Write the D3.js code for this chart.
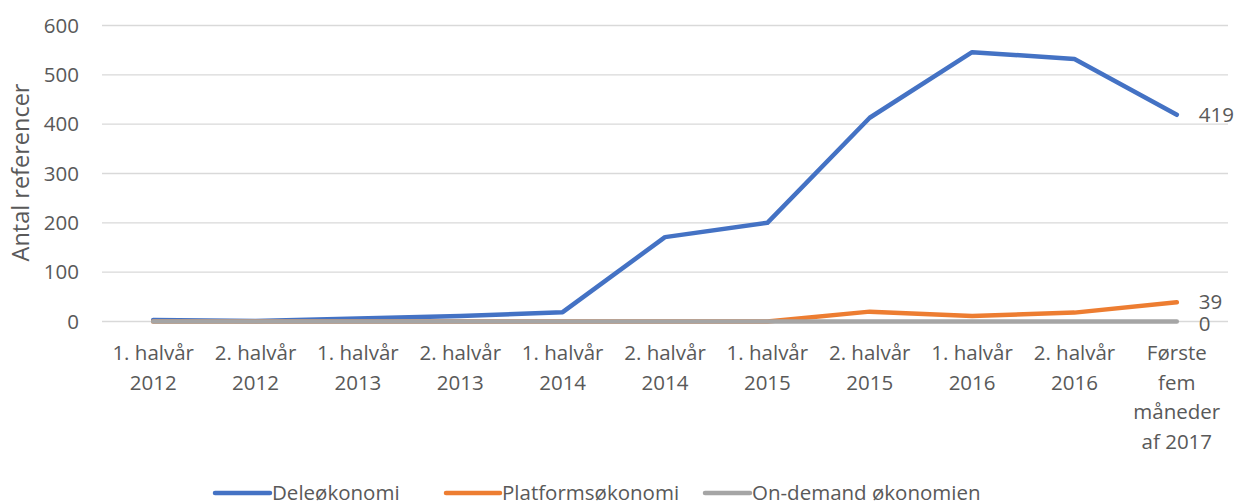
<!DOCTYPE html>
<html>
<head>
<meta charset="utf-8">
<script src="https://cdn.jsdelivr.net/npm/d3@7"></script>
<style>
  body { margin: 0; background: #fff; }
  text { font-family: "Open Sans", Lato, sans-serif; fill: #595959; }
</style>
</head>
<body>
<div id="chart"></div>
<script>
// categories (x axis, multi-line labels)
var categories = [
    ["1. halvår", "2012"], ["2. halvår", "2012"], ["1. halvår", "2013"], ["2. halvår", "2013"],
    ["1. halvår", "2014"], ["2. halvår", "2014"], ["1. halvår", "2015"], ["2. halvår", "2015"],
    ["1. halvår", "2016"], ["2. halvår", "2016"], ["Første", "fem", "måneder", "af 2017"]
];
var seriesNames = ["Deleøkonomi", "Platformsøkonomi", "On-demand økonomien"];
var deleValues = [3, 1, 6, 11, 19, 171, 200, 413, 546, 532, 419];
var platformValues = [0, 0, 0, 0, 0, 0, 0, 20, 11, 18, 39];
var onDemandValues = [0, 0, 0, 0, 0, 0, 0, 0, 0, 0, 0];
var yTicks = [0, 100, 200, 300, 400, 500, 600];
var colors = ["#4472C4", "#ED7D31", "#A5A5A5"];
var fontSize = "20.5px";

function init() {
    var W = 1237, H = 502;
    var margin = { top: 25.5, right: 9, bottom: 180.5, left: 102 };
    var width = W - margin.left - margin.right,
        height = H - margin.top - margin.bottom;

    var svg = d3.select("#chart").append("svg")
        .attr("width", W).attr("height", H);
    var g = svg.append("g")
        .attr("transform", "translate(" + margin.left + "," + margin.top + ")");

    var xScale = d3.scaleBand().domain(d3.range(categories.length)).range([0, width]);
    var yScale = d3.scaleLinear().domain([0, 600]).range([height, 0]);

    // gridlines
    g.append("g").selectAll("line").data(yTicks).enter().append("line")
        .attr("x1", 0).attr("x2", width)
        .attr("y1", d => yScale(d)).attr("y2", d => yScale(d))
        .attr("stroke", "#D9D9D9").attr("stroke-width", 1.3);

    // y axis labels
    var yAxis = g.append("g")
        .call(d3.axisLeft(yScale).tickValues(yTicks).tickSize(0).tickPadding(23));
    yAxis.select(".domain").remove();
    yAxis.selectAll("text").style("font-size", fontSize).attr("fill", "#595959");

    // y title
    svg.append("text")
        .attr("transform", "translate(29," + (margin.top + height / 2 - 1) + ")rotate(-90)")
        .attr("text-anchor", "middle")
        .style("font-size", "23.5px")
        .text("Antal referencer");

    // x labels
    var xLab = g.append("g").selectAll("text").data(categories).enter().append("text")
        .attr("x", (d, i) => xScale(i) + xScale.bandwidth() / 2)
        .attr("y", height + 38.5)
        .attr("text-anchor", "middle")
        .style("font-size", fontSize);
    xLab.selectAll("tspan").data(d => d).enter().append("tspan")
        .attr("x", function () { return this.parentNode.getAttribute("x"); })
        .attr("dy", (d, i) => i === 0 ? 0 : 29.5)
        .text(d => d);

    // lines
    var allSeries = [deleValues, platformValues, onDemandValues];
    var line = d3.line()
        .x((d, i) => xScale(i) + xScale.bandwidth() / 2)
        .y(d => yScale(d));
    allSeries.forEach(function (vals, k) {
        g.append("path")
            .datum(vals)
            .attr("d", line)
            .attr("fill", "none")
            .attr("stroke", colors[k])
            .attr("stroke-width", 4.5)
            .attr("stroke-linejoin", "round")
            .attr("stroke-linecap", "round");
    });

    // end labels
    var lastX = xScale(categories.length - 1) + xScale.bandwidth() / 2;
    var endOffsets = [7.5, 7, 9];
    allSeries.forEach(function (vals, k) {
        var v = vals[vals.length - 1];
        g.append("text")
            .attr("x", lastX + 22)
            .attr("y", yScale(v) + endOffsets[k])
            .style("font-size", fontSize)
            .attr("fill", "#404040")
            .text(v);
    });

    // legend
    var legendX = [215, 446, 705];
    var legendW = [55, 54, 45];
    var leg = svg.append("g");
    seriesNames.forEach(function (name, k) {
        leg.append("line")
            .attr("x1", legendX[k]).attr("x2", legendX[k] + legendW[k])
            .attr("y1", 493).attr("y2", 493)
            .attr("stroke", colors[k]).attr("stroke-width", 4.5)
            .attr("stroke-linecap", "round");
        leg.append("text")
            .attr("x", legendX[k] + legendW[k] + 2)
            .attr("y", 500)
            .style("font-size", fontSize)
            .text(name);
    });
}

init();
</script>
</body>
</html>
